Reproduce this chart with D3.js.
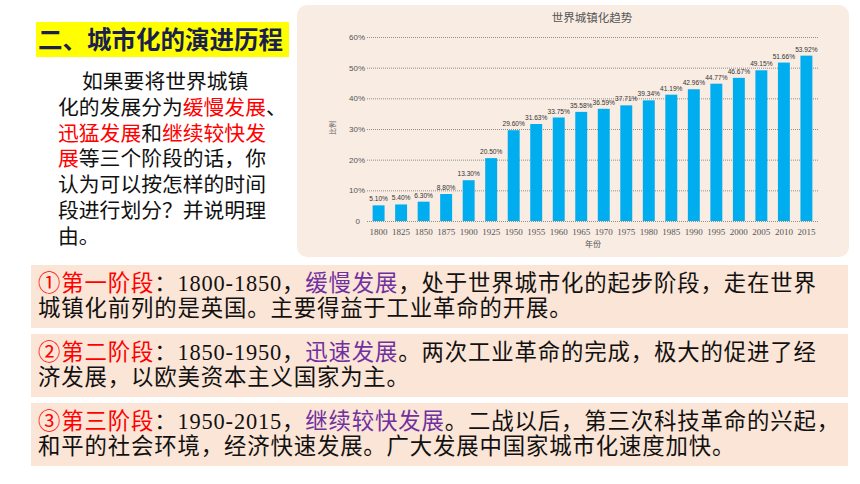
<!DOCTYPE html>
<html><head><meta charset="utf-8">
<script src="https://cdn.jsdelivr.net/npm/d3@7"></script>
<style>html,body{margin:0;padding:0;background:#fff;}svg{display:block;}</style>
</head><body>
<svg id="s" width="860" height="484"></svg>
<script>
const years = ["1800","1825","1850","1875","1900","1925","1950","1955","1960","1965","1970","1975","1980","1985","1990","1995","2000","2005","2010","2015"];
const values = [5.10,5.40,6.30,8.80,13.30,20.50,29.60,31.63,33.75,35.58,36.59,37.71,39.34,41.19,42.96,44.77,46.67,49.15,51.66,53.92];
const yTicks = [0,10,20,30,40,50,60];
const chartTitle = "世界城镇化趋势";
const xTitle = "年份";
const yTitle = "比例";
const heading = "二、城市化的演进历程";
const question = [
  [["如果要将世界城镇",0]],
  [["化的发展分为",0],["缓慢发展",1],["、",0]],
  [["迅猛发展",1],["和",0],["继续较快发",1]],
  [["展",1],["等三个阶段的话，你",0]],
  [["认为可以按怎样的时间",0]],
  [["段进行划分？并说明理",0]],
  [["由。",0]]
];
const answers = [
  [[["①第一阶段",1],["：1800-1850，",0],["缓慢发展",2],["，处于世界城市化的起步阶段，走在世界",0]],
   [["城镇化前列的是英国。主要得益于工业革命的开展。",0]]],
  [[["②第二阶段",1],["：1850-1950，",0],["迅速发展",2],["。两次工业革命的完成，极大的促进了经",0]],
   [["济发展，以欧美资本主义国家为主。",0]]],
  [[["③第三阶段",1],["：1950-2015，",0],["继续较快发展",2],["。二战以后，第三次科技革命的兴起，",0]],
   [["和平的社会环境，经济快速发展。广大发展中国家城市化速度加快。",0]]]
];

const svg = d3.select("#s");
const cjk = "'Noto Sans CJK SC','Noto Sans',sans-serif";

// heading
svg.append("rect").attr("x",36).attr("y",22).attr("width",253).attr("height",35).attr("fill","#ffff00");
svg.append("text").attr("x",38).attr("y",48.5).attr("font-family",cjk).attr("font-weight","bold")
  .attr("font-size",24.5).attr("fill","#1b1f4d").text(heading);

// question paragraph
const qColors = ["#111","#ff0000"];
question.forEach((line,i)=>{
  const t = svg.append("text").attr("x", i===0?82:58).attr("y",89+i*25.8)
    .attr("font-family","'Liberation Sans',"+cjk).attr("font-size",20.8);
  line.forEach(seg=>t.append("tspan").attr("fill",qColors[seg[1]]).text(seg[0]));
});

// answer boxes
const aColors = ["#111","#ff0000","#7030a0"];
const boxY = [265,334,403];
answers.forEach((box,b)=>{
  svg.append("rect").attr("x",31).attr("y",boxY[b]).attr("width",817).attr("height",63).attr("fill","#fbe5d6");
  box.forEach((line,i)=>{
    const t = svg.append("text").attr("x",38).attr("y",boxY[b]+26+i*25)
      .attr("font-family","'Liberation Serif',"+cjk).attr("font-size",22.4).attr("letter-spacing",0.85);
    line.forEach(seg=>t.append("tspan").attr("fill",aColors[seg[1]]).text(seg[0]));
  });
});

// chart panel
svg.append("rect").attr("x",297).attr("y",5).attr("width",552).attr("height",252).attr("rx",10)
  .attr("fill","#f9ece3");

const x = d3.scaleBand().domain(years).range([367,818]).paddingInner(0.47).paddingOuter(0.25);
const y = d3.scaleLinear().domain([0,60]).range([221,37]);

svg.append("text").attr("x",592).attr("y",22).attr("text-anchor","middle").attr("font-family",cjk)
  .attr("font-size",11.5).attr("fill","#555").text(chartTitle);

// grid
const gAxis = svg.append("g").attr("transform","translate(367,0)")
  .call(d3.axisLeft(y).tickValues(yTicks).tickSize(-451).tickFormat(d=>d===0?"0":d+"%"));
gAxis.select(".domain").remove();
gAxis.selectAll(".tick line").attr("stroke","#777").attr("stroke-width",0.8).attr("stroke-dasharray","1,1");
gAxis.selectAll(".tick text").attr("x",-2).attr("font-family","'Liberation Sans Narrow','Liberation Sans',sans-serif")
  .attr("font-size",8).attr("fill","#555");
gAxis.selectAll(".tick").filter(d=>d===0).select("text").attr("x",-7);

// bars
svg.append("g").selectAll("rect").data(values).join("rect")
  .attr("x",(d,i)=>x(years[i])).attr("width",x.bandwidth())
  .attr("y",d=>y(d)).attr("height",d=>y(0)-y(d)).attr("fill","#00adef");

svg.append("g").selectAll("text").data(values).join("text")
  .attr("x",(d,i)=>x(years[i])+x.bandwidth()/2).attr("y",d=>y(d)-4)
  .attr("text-anchor","middle").attr("font-family","'Liberation Sans Narrow','Liberation Sans',sans-serif")
  .attr("font-size",6.6).attr("fill","#333").text(d=>d.toFixed(2)+"%");

// x axis labels
const gx = svg.append("g").attr("transform","translate(0,221)")
  .call(d3.axisBottom(x).tickSize(0).tickPadding(8));
gx.select(".domain").remove();
gx.selectAll(".tick text").attr("font-family","'Liberation Serif',serif").attr("font-size",9).attr("fill","#555");

svg.append("text").attr("x",593).attr("y",247).attr("text-anchor","middle").attr("font-family",cjk)
  .attr("font-size",8).attr("fill","#555").text(xTitle);
svg.append("text").attr("transform","translate(335,128) rotate(-90)").attr("text-anchor","middle")
  .attr("font-family",cjk).attr("font-size",7).attr("fill","#666").text(yTitle);
</script>
</body></html>
